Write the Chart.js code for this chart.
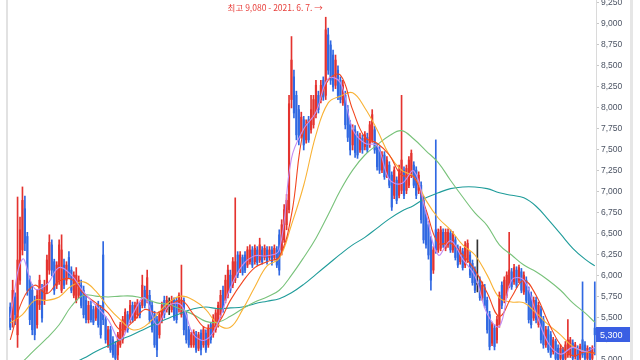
<!DOCTYPE html>
<html><head><meta charset="utf-8">
<script src="https://cdn.jsdelivr.net/npm/chart.js@4.4.1/dist/chart.umd.min.js"></script>
<style>html,body{margin:0;padding:0;background:#fff;}#wrap{width:640px;height:360px;position:relative;}</style>
</head><body><div id="wrap"><canvas id="c" width="640" height="360"></canvas></div>
<script>
// Daily candles (KRW)
const opens=[
5630,5480,5750,5300,5950,6310,6800,6470,5950,5830,
5700,5420,5660,5830,5710,5830,6070,6370,6170,5890,
5950,5830,6130,5950,6220,6070,5770,5710,5770,5890,
5830,5710,5480,5650,5600,5500,5650,5600,6250,5480,
5180,5360,5240,5180,5060,5180,5240,5360,5540,5480,
5650,5500,5540,5650,5650,5830,5710,5770,5650,5540,
5480,5300,5480,5710,5600,5680,5600,5710,5710,5600,
5540,5710,5540,5360,5180,5180,5300,5140,5320,5180,
5320,5180,5420,5300,5360,5420,5540,5830,5710,5770,
6010,5890,5950,6250,6070,6220,6250,6130,6170,6310,
6170,6310,6190,6310,6220,6310,6220,6310,6220,6310,
6490,6310,6430,6610,6790,8100,8370,8150,7980,7680,
7860,7620,7860,7740,7800,7920,8150,8100,8330,8150,
8870,8750,8630,8270,8450,8330,8060,8150,7980,7800,
7560,7740,7680,7500,7640,7540,7650,7560,7620,7740,
7540,7500,7260,7440,7200,7320,7200,6960,7140,6960,
7020,7260,7020,7080,7200,7320,7260,7020,7080,6900,
6730,6610,6430,6070,6550,6310,6330,6520,6330,6370,
6510,6310,6430,6330,6170,6290,6130,6190,6250,6150,
6070,5900,5950,5740,5860,5710,5540,5200,5380,5240,
5420,5890,5710,5770,5890,6050,5930,6070,5950,6050,
5810,5950,5830,5770,5500,5710,5420,5600,5480,5180,
5360,5300,5100,5220,5140,5020,5120,5020,5060,5060,
5200,5040,5140,5020,5240,5180,5020,5120,5020,5380];
const closes=[
5390,5830,5540,6190,6550,6900,6390,5830,5480,5360,
5300,5770,5950,5500,5890,6190,6400,6070,5830,6130,
6370,6310,5890,6130,6010,5830,6010,6010,5950,5650,
5540,5480,5650,5480,5450,5620,5420,5300,5480,5240,
5360,5120,5060,5020,5300,5420,5480,5570,5360,5650,
5480,5650,5680,5540,5890,5650,5980,5480,5360,5180,
5120,5540,5650,5540,5710,5680,5710,5500,5480,5770,
5710,5360,5240,5180,5300,5330,5120,5300,5120,5360,
5120,5380,5240,5500,5560,5650,5770,5600,5950,6070,
5830,6170,6170,6010,6250,6040,6070,6310,6310,6130,
6330,6160,6370,6170,6330,6170,6310,6170,6330,6130,
6070,6610,6790,6900,8050,8570,7940,7680,7620,7890,
7560,7800,7620,7980,8100,8270,7980,8270,8130,8930,
8450,8330,8250,8570,8150,8100,8270,7800,7650,7500,
7740,7470,7440,7650,7500,7680,7500,7800,7920,7500,
7300,7260,7440,7180,7380,7080,6820,7260,6900,7260,
7380,6960,7280,7380,7460,7080,6960,7200,6670,6430,
6370,6250,5950,6310,6310,6520,6550,6370,6520,6520,
6310,6490,6220,6130,6310,6100,6370,6390,6010,5920,
5830,5900,5740,5890,5650,5360,5160,5420,5160,5480,
5770,5650,5950,6010,6070,5870,6100,5890,6100,5830,
6010,5710,5480,5420,5710,5480,5650,5240,5180,5360,
5120,5060,5240,5020,5000,5140,5000,5180,5240,5240,
5020,5180,5000,5160,5060,5020,5140,5000,5140,5300];
const highs=[
5680,5950,5800,6940,6700,7060,6950,6520,6000,5900,
5760,5830,6010,5900,5950,6250,6490,6430,6200,6170,
6430,6490,6200,6170,6290,6110,6050,6100,6000,5950,
5880,5760,5700,5700,5640,5660,5700,5650,6410,5520,
5400,5400,5280,5220,5330,5450,5520,5610,5580,5710,
5690,5690,5720,5690,6010,5880,6070,5830,5700,5580,
5520,5580,5690,5760,5760,5740,5760,5740,5740,5800,
6130,5740,5580,5400,5330,5360,5340,5330,5360,5400,
5360,5420,5450,5540,5600,5690,5830,5880,6010,6130,
6070,6220,6930,6290,6290,6250,6290,6350,6370,6350,
6370,6350,6450,6350,6370,6350,6350,6350,6370,6350,
6550,6670,6850,6970,8150,8850,8450,8200,8030,7950,
7900,7860,7900,8150,8150,8330,8200,8330,8370,9080,
8950,8800,8690,8630,8500,8370,8330,8200,8030,7850,
7800,7790,7720,7700,7680,7720,7700,7840,7980,7780,
7580,7540,7480,7480,7420,7360,7240,7300,7180,7320,
8150,7300,7320,7420,7500,7360,7300,7240,7120,6950,
6780,6650,6470,6350,7620,6560,6590,6560,6560,6560,
6550,6530,6470,6370,6350,6330,6410,6430,6290,6190,
6110,6430,5990,5930,5900,5750,5580,5450,5420,5520,
5810,5930,5990,6050,6520,6090,6140,6110,6130,6090,
6050,5990,5870,5810,5750,5750,5690,5640,5520,5400,
5400,5340,5270,5250,5180,5180,5150,5220,5480,5270,
5240,5210,5170,5190,5930,5220,5170,5150,5170,5930];
const lows=[
5360,5390,5420,5150,5900,6250,6300,5770,5420,5300,
5240,5380,5600,5450,5660,5800,6020,6000,5780,5850,
5900,5800,5850,5900,5970,5800,5740,5680,5740,5620,
5500,5440,5440,5450,5420,5470,5390,5260,5420,5200,
5150,5090,5030,5000,5000,5150,5200,5330,5330,5440,
5450,5470,5500,5500,5620,5620,5680,5440,5330,5150,
5040,5260,5440,5500,5570,5540,5570,5470,5440,5570,
5510,5300,5200,5150,5150,5150,5090,5110,5060,5150,
5090,5150,5200,5270,5330,5390,5500,5570,5680,5740,
5800,5860,5920,5980,6040,6010,6040,6100,6140,6100,
6140,6130,6160,6140,6190,6140,6190,6130,6190,6100,
6010,6250,6400,6550,6750,8000,7880,7620,7560,7640,
7500,7580,7590,7700,7760,7880,7940,8060,8090,8100,
8400,8280,8200,8230,8100,8060,8030,7750,7600,7440,
7500,7410,7400,7470,7460,7500,7470,7530,7590,7460,
7260,7220,7230,7150,7170,7050,6780,6920,6860,6930,
6980,6920,6980,7050,7170,7050,6920,6980,6630,6390,
6330,6200,5830,6030,6270,6280,6300,6340,6300,6340,
6280,6280,6190,6100,6140,6070,6100,6160,5980,5890,
5800,5810,5710,5710,5620,5320,5120,5170,5120,5200,
5390,5610,5680,5740,5860,5840,5900,5860,5920,5800,
5780,5680,5440,5380,5470,5440,5390,5200,5140,5150,
5090,5030,5070,5000,4980,5000,4980,5000,5030,5030,
5000,5010,4980,5000,5030,5000,5000,4980,5000,5060];
const categories = opens.map((_, i) => 'D' + (i + 1));

// Moving-average lines, read at every 5th session
const maIndex=[0,5,10,15,20,25,30,35,40,45,50,55,60,65,70,75,80,85,90,95,100,105,110,115,120,125,130,135,140,145,150,155,160,165,170,175,180,185,190,195,200,205,210,215,220,225,230,235,239];
const ma5=[5500,6200,5850,5900,6100,6010,5810,5650,5480,5240,5540,5740,5420,5650,5650,5300,5240,5450,5860,6130,6240,6240,6310,7400,7750,7950,8350,8300,7750,7580,7550,7150,7100,7250,6750,6250,6420,6200,6000,5550,5400,5950,5950,5560,5200,5070,5150,5100,5150];
const ma20=[5240,5710,5890,5790,5940,5960,5790,5680,5560,5360,5450,5600,5560,5640,5710,5540,5380,5440,5710,5930,6100,6170,6230,6730,7740,7950,8330,8390,7980,7650,7580,7440,7200,7180,6790,6390,6390,6250,6070,5800,5520,5750,5950,5770,5450,5180,5050,5100,5080];
const ma60=[5440,5540,5710,5710,5750,5880,5930,5820,5630,5480,5360,5400,5540,5690,5760,5710,5600,5420,5390,5600,5870,6120,6210,6610,7080,7680,8060,8140,8180,8000,7740,7440,7260,7180,6900,6690,6550,6370,6250,6010,5740,5690,5680,5560,5420,5300,5160,5100,5080];
const ma120=[null,4976,5120,5260,5420,5640,5770,5760,5750,5760,5760,5730,5680,5660,5600,5540,5460,5450,5520,5610,5690,5750,5830,6010,6220,6450,6730,7020,7260,7440,7560,7670,7730,7630,7490,7350,7140,6940,6750,6600,6370,6250,6130,6050,5950,5830,5680,5560,5450];
const ma240=[null,null,null,null,null,4950,5020,5100,5170,5240,5300,5370,5440,5500,5560,5610,5630,5610,5620,5630,5670,5700,5730,5800,5900,6020,6140,6260,6370,6460,6570,6680,6770,6840,6930,6990,7040,7060,7060,7040,6990,6960,6930,6830,6670,6500,6330,6200,6120];

// Axis
const yTicks=[5000,5250,5500,5750,6000,6250,6500,6750,7000,7250,7500,7750,8000,8250,8500,8750,9000,9250];
const yMin=5000, yMax=9285;
const peakDate='2021. 6. 7.';

const UP='#e4332f', DOWN='#3068e2', FLAT='#333333';
const candleColors = closes.map((c,i)=> c>opens[i]?UP:(c<opens[i]?DOWN:FLAT));
const maPoints = arr => maIndex.map((k,j)=> arr[j]==null?null:{x:categories[k],y:arr[j]}).filter(Boolean);
const fmt = v => Number(v).toLocaleString('en-US');

const deco = {
  id:'deco',
  beforeDraw(chart){
    const ctx=chart.ctx;
    ctx.save();
    ctx.fillStyle='#fff'; ctx.fillRect(0,0,chart.width,chart.height);
    ctx.fillStyle='#e2e2e2'; ctx.fillRect(6,0,2,chart.height);
    ctx.fillStyle='#e6e6e6'; ctx.fillRect(630,0,3,chart.height);
    ctx.restore();
  },
  afterDraw(chart){
    const ctx=chart.ctx, xs=chart.scales.x, ys=chart.scales.y;
    let pi=0; highs.forEach((h,i)=>{ if(h>highs[pi]) pi=i; });
    const px=xs.getPixelForValue(pi), py=ys.getPixelForValue(highs[pi]);
    ctx.save();
    ctx.font='8.5px "Noto Sans CJK KR", "Liberation Sans", sans-serif';
    ctx.fillStyle='#e8403c'; ctx.textAlign='right'; ctx.textBaseline='middle';
    ctx.fillText('최고 '+fmt(highs[pi])+' - '+peakDate+' →', px-3, py-9);
    const li=closes.length-1, ly=ys.getPixelForValue(closes[li]);
    const col = closes[li]<opens[li]?'#3a5fe3':'#e2332f';
    ctx.fillStyle=col; ctx.fillRect(596, Math.round(ly-7.5), 34, 15);
    ctx.fillStyle='#fff'; ctx.textAlign='left';
    ctx.font='9px "Liberation Sans", Arial, sans-serif';
    ctx.fillText(fmt(closes[li]), 600, ly+0.5);
    ctx.restore();
  }
};

const lineDs=(label,arr,color,order)=>({type:'line',label,data:maPoints(arr),borderColor:color,borderWidth:1.1,pointRadius:0,tension:0.4,fill:false,order});

new Chart(document.getElementById('c'),{
  type:'bar',
  data:{labels:categories,datasets:[
    lineDs('MA5',ma5,'#c48ef3',0),
    lineDs('MA20',ma20,'#f2461f',1),
    lineDs('MA60',ma60,'#f9b234',2),
    lineDs('MA120',ma120,'#78c27a',3),
    lineDs('MA240',ma240,'#1f9c9a',4),
    {label:'body',data:opens.map((o,i)=>[o,closes[i]]),backgroundColor:candleColors,barThickness:1.5,minBarLength:1,grouped:false,order:6},
    {label:'wick',data:lows.map((l,i)=>[l,highs[i]]),backgroundColor:candleColors,barThickness:1,grouped:false,order:7}
  ]},
  options:{
    responsive:false,animation:false,
    layout:{padding:{left:9,right:0,top:0,bottom:0}},
    plugins:{legend:{display:false},tooltip:{enabled:false}},
    scales:{
      x:{display:false,offset:true},
      y:{position:'right',min:yMin,max:yMax,
        ticks:{autoSkip:false,padding:2,color:'#4b5363',font:{size:8.5,family:'"Liberation Sans", Arial, sans-serif'},callback:v=>fmt(v)},
        grid:{drawOnChartArea:false,drawTicks:true,tickLength:3,color:'#c8c8c8'},
        border:{display:true,color:'#dadada'},
        afterBuildTicks(s){ s.ticks=yTicks.map(v=>({value:v})); },
        afterFit(s){ s.width=44; s.paddingTop=0; s.paddingBottom=0; }
      }
    }
  },
  plugins:[deco]
});
</script>
</body></html>
